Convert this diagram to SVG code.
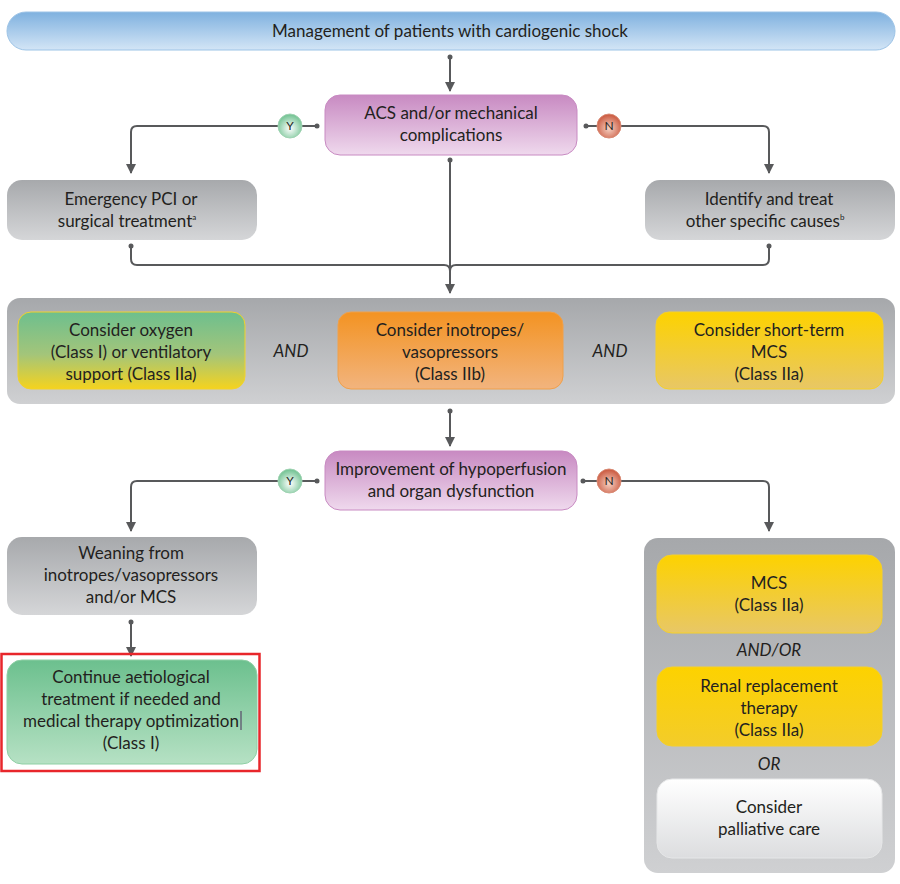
<svg xmlns="http://www.w3.org/2000/svg" width="900" height="884" viewBox="0 0 900 884">
<style>
text{font-family:Lato,"Open Sans","Liberation Sans",sans-serif;font-size:17px;fill:#231f20;text-anchor:middle}
.it{font-style:italic}
.conn{fill:none;stroke:#58595b;stroke-width:2}
.dot{fill:#58595b}
.yn{font-size:12px}
</style>
<defs>
<linearGradient id="gBlue" x1="0" y1="0" x2="0" y2="1"><stop offset="0" stop-color="#7fb1df"/><stop offset="1" stop-color="#d3e5f6"/></linearGradient>
<linearGradient id="gPurple" x1="0" y1="0" x2="0" y2="1"><stop offset="0" stop-color="#c88ac2"/><stop offset="1" stop-color="#efd9ed"/></linearGradient>
<linearGradient id="gGray" x1="0" y1="0" x2="0" y2="1"><stop offset="0" stop-color="#a7a9ac"/><stop offset="1" stop-color="#d5d6d8"/></linearGradient>
<linearGradient id="gCont" x1="0" y1="0" x2="0" y2="1"><stop offset="0" stop-color="#a6a8ab"/><stop offset="1" stop-color="#cfd0d2"/></linearGradient>
<linearGradient id="gGY" x1="0" y1="0" x2="0" y2="1"><stop offset="0" stop-color="#6dbf8e"/><stop offset="0.55" stop-color="#a3c57a"/><stop offset="1" stop-color="#f5d31e"/></linearGradient>
<linearGradient id="gOrange" x1="0" y1="0" x2="0" y2="1"><stop offset="0" stop-color="#f39322"/><stop offset="1" stop-color="#f2b47e"/></linearGradient>
<linearGradient id="gYellow" x1="0" y1="0" x2="0" y2="1"><stop offset="0" stop-color="#fdd200"/><stop offset="1" stop-color="#e8c766"/></linearGradient>
<linearGradient id="gYellow2" x1="0" y1="0" x2="0" y2="1"><stop offset="0" stop-color="#fdd200"/><stop offset="1" stop-color="#f3cc2a"/></linearGradient>
<linearGradient id="gGreen" x1="0" y1="0" x2="0" y2="1"><stop offset="0" stop-color="#6cc08e"/><stop offset="1" stop-color="#b6e1c4"/></linearGradient>
<linearGradient id="gWhite" x1="0" y1="0" x2="0" y2="1"><stop offset="0" stop-color="#ffffff"/><stop offset="1" stop-color="#dcdddf"/></linearGradient>
<radialGradient id="gY" cx="0.5" cy="0.6" r="0.6"><stop offset="0" stop-color="#ffffff"/><stop offset="1" stop-color="#6cc08e"/></radialGradient>
<radialGradient id="gN" cx="0.5" cy="0.6" r="0.6"><stop offset="0" stop-color="#f6d2c4"/><stop offset="1" stop-color="#c9543a"/></radialGradient>
<marker id="arr" viewBox="0 0 10 10" refX="9" refY="5" markerWidth="5" markerHeight="5" orient="auto"><path d="M0,0 L10,5 L0,10 z" fill="#58595b"/></marker>
</defs>

<g id="connectors">
<circle class="dot" cx="450" cy="57" r="2.5"/>
<path class="conn" d="M450,57 V91" marker-end="url(#arr)"/>
<circle class="dot" cx="317" cy="126" r="2.5"/>
<path class="conn" d="M317,126 H302"/>
<path class="conn" d="M278,126 H137 Q131,126 131,132 V173" marker-end="url(#arr)"/>
<circle class="dot" cx="586" cy="126" r="2.5"/>
<path class="conn" d="M586,126 H597"/>
<path class="conn" d="M621,126 H763 Q769,126 769,132 V173" marker-end="url(#arr)"/>
<circle class="dot" cx="450" cy="160" r="2.5"/>
<path class="conn" d="M450,160 V293" marker-end="url(#arr)"/>
<circle class="dot" cx="131" cy="246" r="2.5"/>
<path class="conn" d="M131,246 V259 Q131,265 137,265 H444 Q450,265 450,271"/>
<circle class="dot" cx="769" cy="246" r="2.5"/>
<path class="conn" d="M769,246 V259 Q769,265 763,265 H456 Q450,265 450,271"/>
<circle class="dot" cx="450" cy="411" r="2.5"/>
<path class="conn" d="M450,411 V446" marker-end="url(#arr)"/>
<circle class="dot" cx="317" cy="481" r="2.5"/>
<path class="conn" d="M317,481 H302"/>
<path class="conn" d="M278,481 H137 Q131,481 131,487 V531" marker-end="url(#arr)"/>
<circle class="dot" cx="583" cy="481" r="2.5"/>
<path class="conn" d="M583,481 H597"/>
<path class="conn" d="M621,481 H763 Q769,481 769,487 V531" marker-end="url(#arr)"/>
<circle class="dot" cx="131" cy="622" r="2.5"/>
<path class="conn" d="M131,622 V656" stroke-width="3" marker-end="url(#arr)"/>
</g>

<g id="title">
<rect x="7" y="12" width="888" height="38" rx="19" fill="url(#gBlue)" stroke="#9cc3e6" stroke-width="1"/>
<text x="450" y="37">Management of patients with cardiogenic shock</text>
</g>

<g id="acs">
<rect x="325" y="95" width="252" height="60" rx="15" fill="url(#gPurple)" stroke="#c88ac2" stroke-width="1"/>
<text x="451" y="119">ACS and/or mechanical</text>
<text x="451" y="141">complications</text>
</g>

<g id="y1"><circle cx="290" cy="126" r="12" fill="url(#gY)" stroke="#9fd3b2" stroke-width="1"/><text class="yn" x="290" y="130">Y</text></g>
<g id="n1"><circle cx="609" cy="126" r="12" fill="url(#gN)" stroke="#d98a74" stroke-width="1"/><text class="yn" x="609" y="130">N</text></g>

<g id="emergency">
<rect x="7" y="180" width="250" height="60" rx="15" fill="url(#gGray)"/>
<text x="131" y="205">Emergency PCI or</text>
<text x="127" y="227">surgical treatment<tspan font-size="8" dy="-7">a</tspan></text>
</g>

<g id="identify">
<rect x="645" y="180" width="250" height="60" rx="15" fill="url(#gGray)"/>
<text x="769" y="205">Identify and treat</text>
<text x="765" y="227">other specific causes<tspan font-size="8" dy="-7">b</tspan></text>
</g>

<g id="therapyGroup">
<rect x="7" y="298" width="888" height="106" rx="13" fill="url(#gCont)"/>
</g>
<g id="oxygen">
<rect x="18" y="312" width="227" height="77" rx="13" fill="url(#gGY)" stroke="#f2d22b" stroke-width="1"/>
<text x="131" y="336">Consider oxygen</text>
<text x="131" y="358">(Class I) or ventilatory</text>
<text x="131" y="380">support (Class IIa)</text>
</g>
<text class="it" x="291" y="357">AND</text>
<g id="inotropes">
<rect x="338" y="312" width="225" height="77" rx="13" fill="url(#gOrange)" stroke="#f0a04a" stroke-width="1"/>
<text x="450" y="336">Consider inotropes/</text>
<text x="450" y="358">vasopressors</text>
<text x="450" y="380">(Class IIb)</text>
</g>
<text class="it" x="610" y="357">AND</text>
<g id="mcsShort">
<rect x="656" y="312" width="227" height="77" rx="13" fill="url(#gYellow)" stroke="#f5d02a" stroke-width="1"/>
<text x="769" y="336">Consider short-term</text>
<text x="769" y="358">MCS</text>
<text x="769" y="380">(Class IIa)</text>
</g>

<g id="improvement">
<rect x="325" y="451" width="252" height="59" rx="15" fill="url(#gPurple)" stroke="#c88ac2" stroke-width="1"/>
<text x="451" y="475">Improvement of hypoperfusion</text>
<text x="451" y="497">and organ dysfunction</text>
</g>

<g id="y2"><circle cx="290" cy="481" r="12" fill="url(#gY)" stroke="#9fd3b2" stroke-width="1"/><text class="yn" x="290" y="485">Y</text></g>
<g id="n2"><circle cx="609" cy="481" r="12" fill="url(#gN)" stroke="#d98a74" stroke-width="1"/><text class="yn" x="609" y="485">N</text></g>

<g id="weaning">
<rect x="7" y="537" width="250" height="78" rx="15" fill="url(#gGray)"/>
<text x="131" y="559">Weaning from</text>
<text x="131" y="581">inotropes/vasopressors</text>
<text x="131" y="603">and/or MCS</text>
</g>

<g id="continue">
<rect x="7" y="660" width="250" height="104" rx="15" fill="url(#gGreen)" stroke="#8fcfa5" stroke-width="1"/>
<text x="131" y="683">Continue aetiological</text>
<text x="131" y="705">treatment if needed and</text>
<text x="131" y="727">medical therapy optimization</text>
<text x="131" y="749">(Class I)</text>
<line x1="241" y1="711" x2="241" y2="730" stroke="#4b2e5a" stroke-width="1"/>
</g>
<rect id="highlight" x="1.5" y="654" width="258" height="117" fill="none" stroke="#e8262b" stroke-width="2.5"/>

<g id="rightGroup">
<rect x="644" y="538" width="251" height="335" rx="14" fill="url(#gCont)"/>
</g>
<g id="mcs">
<rect x="657" y="555" width="225" height="78" rx="15" fill="url(#gYellow)" stroke="#f5d02a" stroke-width="1"/>
<text x="769" y="589">MCS</text>
<text x="769" y="611">(Class IIa)</text>
</g>
<text class="it" x="769" y="656">AND/OR</text>
<g id="renal">
<rect x="657" y="667" width="225" height="79" rx="15" fill="url(#gYellow2)" stroke="#f5d02a" stroke-width="1"/>
<text x="769" y="692">Renal replacement</text>
<text x="769" y="714">therapy</text>
<text x="769" y="736">(Class IIa)</text>
</g>
<text class="it" x="769" y="770">OR</text>
<g id="palliative">
<rect x="657" y="779" width="225" height="79" rx="15" fill="url(#gWhite)" stroke="#e6e7e8" stroke-width="1"/>
<text x="769" y="813">Consider</text>
<text x="769" y="835">palliative care</text>
</g>
</svg>
